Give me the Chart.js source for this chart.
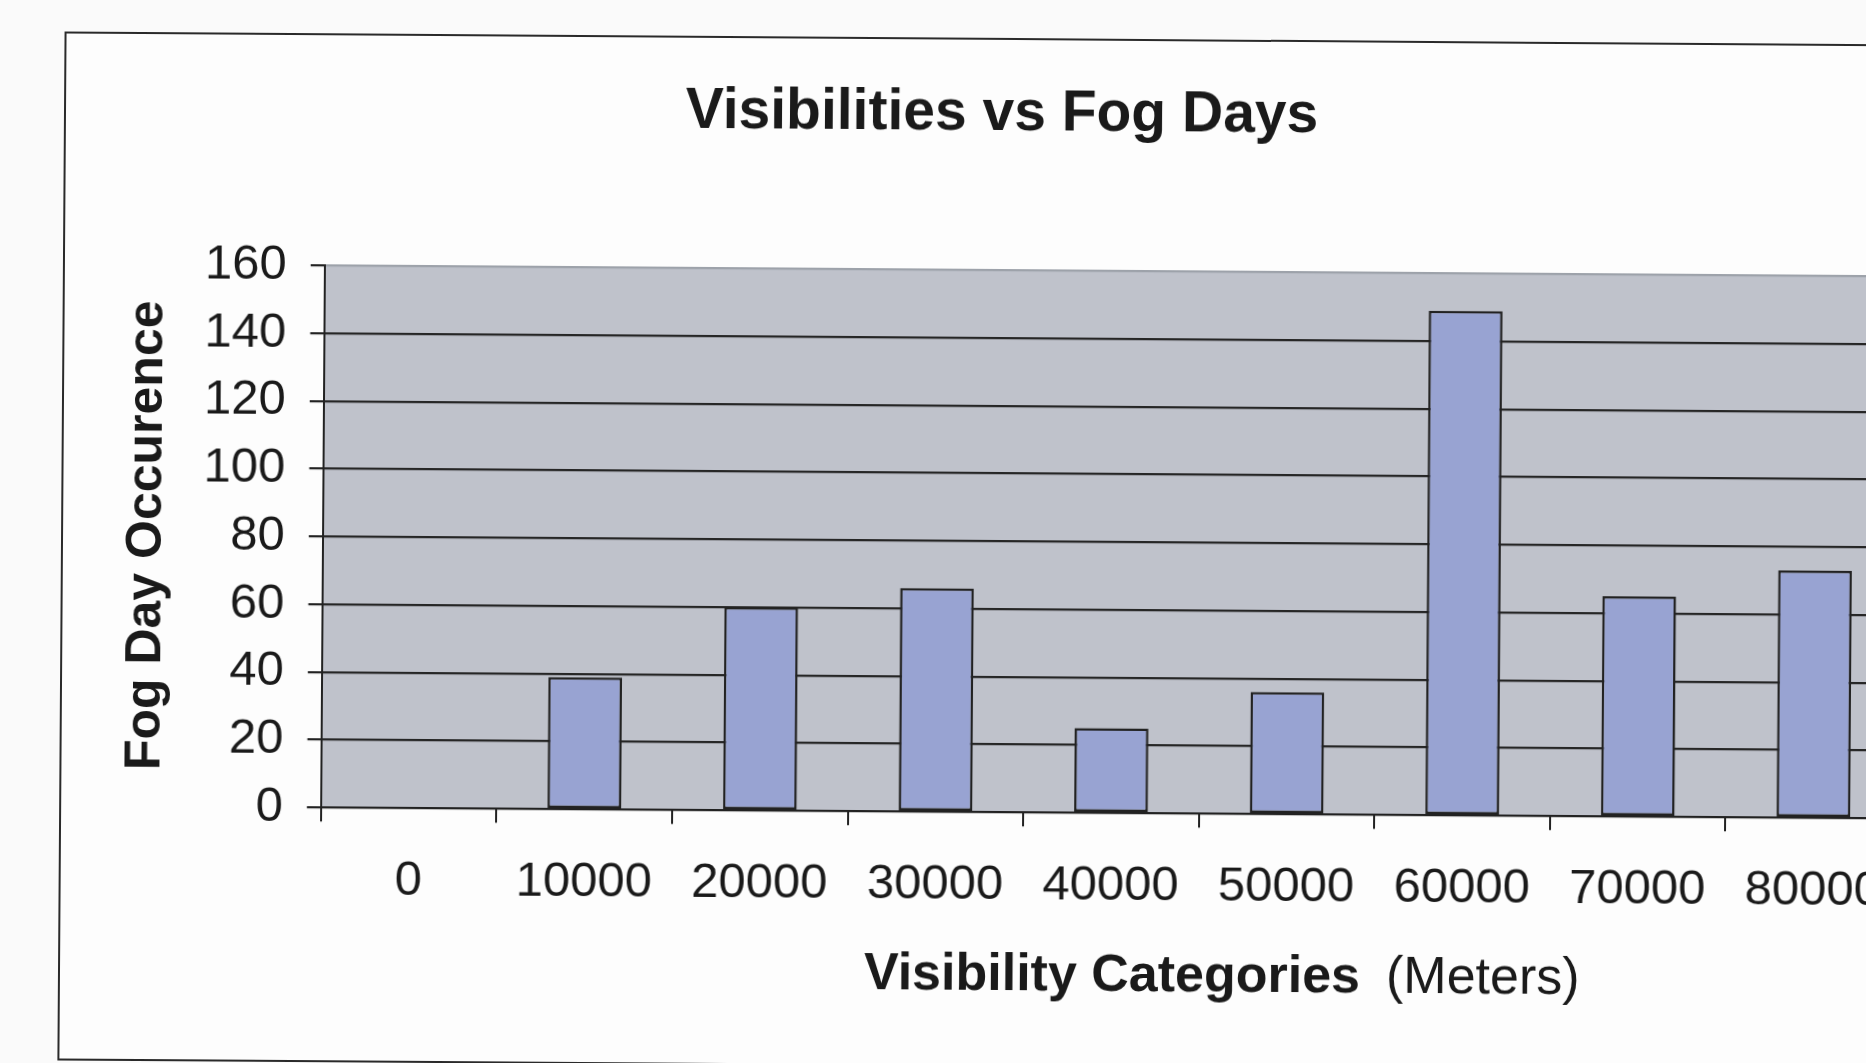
<!DOCTYPE html>
<html>
<head>
<meta charset="utf-8">
<script src="https://cdn.jsdelivr.net/npm/chart.js@4"></script>
<style>
  html, body { margin: 0; padding: 0; overflow: hidden; background: #fafafa; }
  #frame {
    position: absolute; left: 61px; top: 38px;
    width: 1923px; height: 1025px;
    border: 2px solid #2a2a2a;
    background: #fdfdfd;
    transform: rotate(0.4deg);
    transform-origin: 940px 507px;
  }
  canvas { display: block; }
</style>
</head>
<body>
<div id="frame"><canvas id="fogChart" width="1923" height="1025"></canvas></div>
<script>
// visibility categories (meters) and fog day counts
var categories = ['0', '10000', '20000', '30000', '40000', '50000', '60000', '70000', '80000'];
var fogDays = [0, 39, 60, 66, 25, 36, 149, 65, 73];
var yTicks = [0, 20, 40, 60, 80, 100, 120, 140, 160];

var font = "'Liberation Sans', Arial, sans-serif";

// grey plot background
var plotBg = {
  id: 'plotBg',
  beforeDraw: function(chart) {
    var a = chart.chartArea, ctx = chart.ctx;
    ctx.save();
    ctx.fillStyle = 'rgb(191,194,203)';
    ctx.fillRect(a.left, a.top, a.right - a.left, a.bottom - a.top);
    ctx.restore();
  }
};

// x axis title, bold part + normal part
var xTitle = {
  id: 'xTitle',
  afterDraw: function(chart) {
    var a = chart.chartArea, ctx = chart.ctx;
    var bold = 'Visibility Categories', plain = '(Meters)', gap = 26;
    ctx.save();
    ctx.fillStyle = '#1a1a1a';
    ctx.textBaseline = 'middle';
    ctx.font = 'bold 52px ' + font;
    var wb = ctx.measureText(bold).width;
    ctx.font = '52px ' + font;
    var wp = ctx.measureText(plain).width;
    var x = a.left + 902 - (wb + gap + wp) / 2;
    var y = a.bottom + 163;
    ctx.font = 'bold 52px ' + font;
    ctx.fillText(bold, x, y);
    ctx.font = '52px ' + font;
    ctx.fillText(plain, x + wb + gap, y);
    ctx.restore();
  }
};

var ctx = document.getElementById('fogChart').getContext('2d');
var myChart = new Chart(ctx, {
  type: 'bar',
  data: {
    labels: categories,
    datasets: [{
      data: fogDays,
      backgroundColor: 'rgb(152,163,210)',
      borderColor: '#222',
      borderWidth: 2.5,
      borderSkipped: false,
      categoryPercentage: 1,
      barPercentage: 0.42
    }]
  },
  options: {
    responsive: false,
    animation: false,
    layout: { padding: { left: 32, right: 83, top: 0, bottom: 120 } },
    plugins: {
      legend: { display: false },
      tooltip: { enabled: false },
      title: {
        display: true,
        text: 'Visibilities vs Fog Days',
        color: '#1a1a1a',
        font: { family: font, size: 57, weight: 'bold' },
        padding: { top: 40, bottom: 122 }
      }
    },
    scales: {
      x: {
        grid: { offset: true, drawOnChartArea: false, tickLength: 14, color: '#222', lineWidth: 2 },
        border: { color: '#222', width: 2 },
        ticks: { color: '#1a1a1a', padding: 30, maxRotation: 0, font: { family: font, size: 49 } }
      },
      y: {
        min: 0,
        max: 160,
        afterBuildTicks: function(axis) {
          axis.ticks = yTicks.map(function(v) { return { value: v }; });
        },
        grid: {
          tickLength: 14,
          lineWidth: 2.2,
          tickColor: '#222',
          color: function(c) { return c.tick && c.tick.value === 160 ? '#9da2aa' : '#262626'; }
        },
        border: { color: '#222', width: 2 },
        ticks: { color: '#1a1a1a', padding: 24, font: { family: font, size: 49 } },
        title: {
          display: true,
          text: 'Fog Day Occurence',
          color: '#1a1a1a',
          font: { family: font, size: 50, weight: 'bold' },
          padding: { top: 22, bottom: 2 }
        }
      }
    }
  },
  plugins: [plotBg, xTitle]
});
</script>
</body>
</html>
